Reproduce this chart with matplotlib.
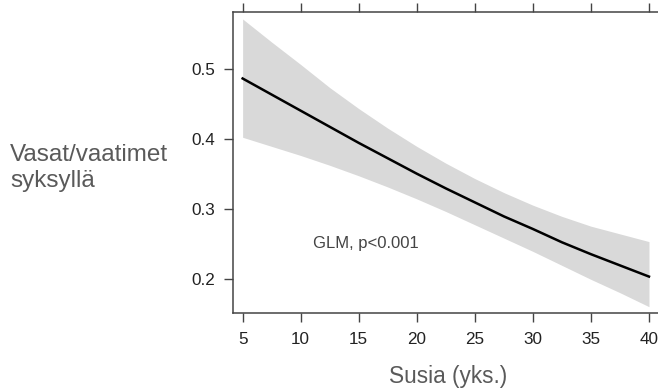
import matplotlib.pyplot as plt

plt.rcParams['font.family'] = ['Liberation Sans', 'DejaVu Sans']

# wolves (units) vs. fitted calves/cow ratio with confidence band
wolves = [5, 7.5, 10, 12.5, 15, 17.5, 20, 22.5, 25, 27.5, 30, 32.5, 35, 37.5, 40]
fit = [0.487, 0.464, 0.441, 0.418, 0.395, 0.373, 0.351, 0.330, 0.310,
       0.290, 0.272, 0.253, 0.236, 0.220, 0.204]
upper = [0.572, 0.539, 0.507, 0.474, 0.444, 0.416, 0.390, 0.366, 0.344,
         0.324, 0.306, 0.290, 0.276, 0.265, 0.254]
lower = [0.403, 0.390, 0.377, 0.363, 0.348, 0.332, 0.315, 0.297, 0.278,
         0.259, 0.240, 0.220, 0.200, 0.181, 0.161]
xticks = [5, 10, 15, 20, 25, 30, 35, 40]
yticks = [0.2, 0.3, 0.4, 0.5]

fig = plt.figure(figsize=(6.58, 3.89), dpi=100)
ax = fig.add_axes([0.354, 0.1954, 0.657, 0.7738])

ax.fill_between(wolves, lower, upper, color='#d9d9d9', linewidth=0)
ax.plot(wolves, fit, color='black', linewidth=1.8)

ax.set_xlim(4.165, 41.4)
ax.set_ylim(0.152, 0.582)
ax.set_xticks(xticks)
ax.set_yticks(yticks)
ax.set_yticklabels(['0.2', '0.3', '0.4', '0.5'])

for s in ax.spines.values():
    s.set_color('#444444')
    s.set_linewidth(1.1)

ax.tick_params(axis='both', direction='out', length=6.5, width=1.0,
               color='#444444', labelsize=12.3, labelcolor='#222222')
ax.tick_params(axis='x', top=True, pad=7)
ax.tick_params(axis='y', pad=6)

ax.text(11.06, 0.245, 'GLM, p<0.001', fontsize=12, color='#444444',
        ha='left', va='baseline')

fig.text(448 / 658, 1 - 376 / 389, 'Susia (yks.)', fontsize=16.3,
         color='#5a5a5a', ha='center', va='center')
fig.text(10 / 658, 1 - 168 / 389, 'Vasat/vaatimet\nsyksyllä', fontsize=17.5,
         color='#5a5a5a', ha='left', va='center', linespacing=1.25)

fig.savefig('out.png', dpi=100)
